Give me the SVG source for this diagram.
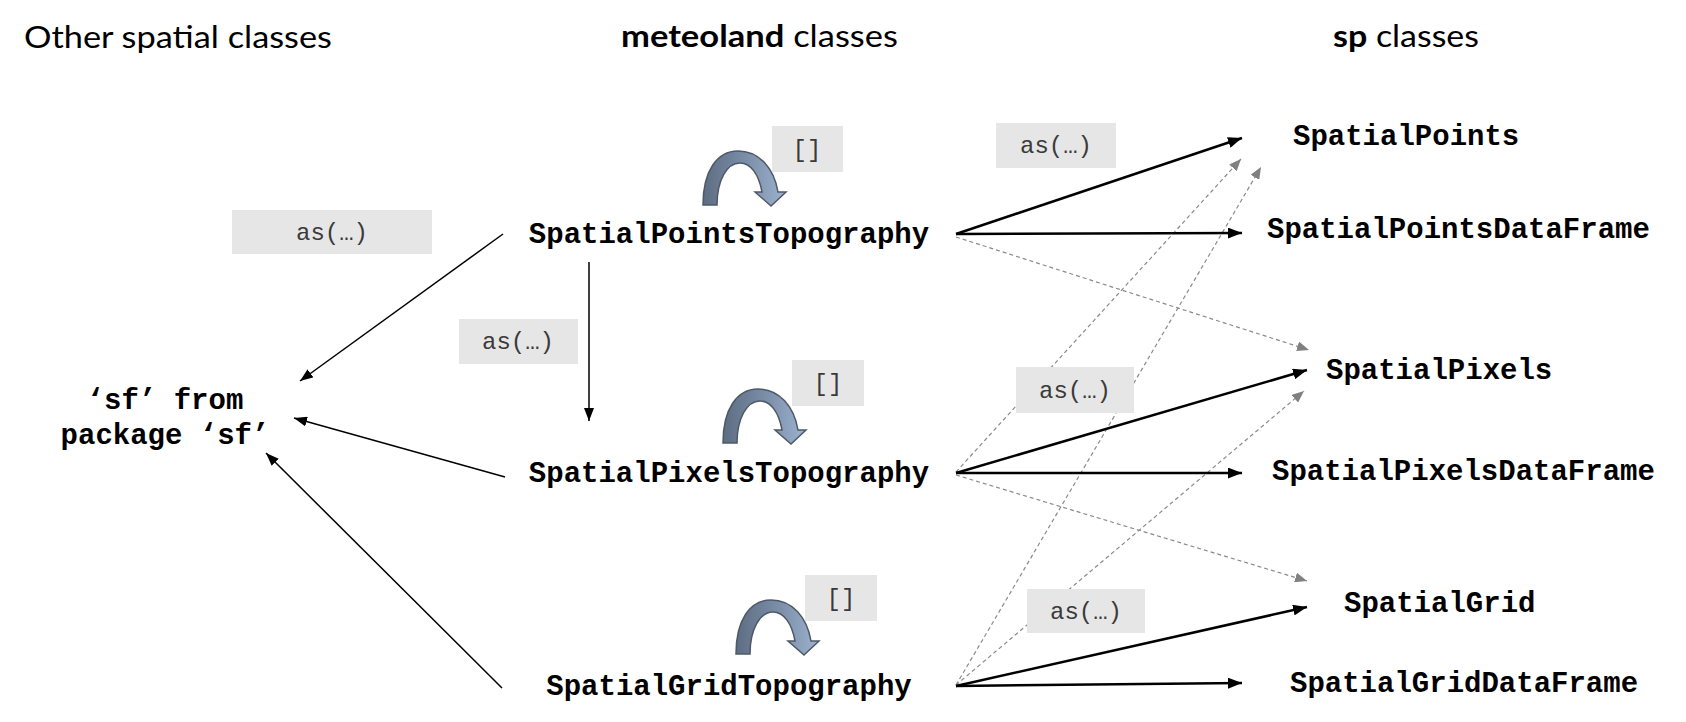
<svg xmlns="http://www.w3.org/2000/svg" width="1686" height="722" viewBox="0 0 1686 722">
<defs>
<style>
.head{font-family:Lato,"Liberation Sans",sans-serif;font-size:30px;fill:#000}
.node{font-family:"Liberation Mono","Courier New",monospace;font-weight:bold;font-size:29px;fill:#000}
.lbl rect{fill:#E7E6E6}
.lbl text{font-family:"Liberation Mono","Courier New",monospace;font-size:24px;fill:#3a3a3a;text-anchor:middle}
.thin{stroke:#000;stroke-width:1.5;fill:none;marker-end:url(#ah)}
.thick{stroke:#000;stroke-width:2.5;fill:none;marker-end:url(#ahb)}
.dash{stroke:#8a8a8a;stroke-width:1.2;stroke-dasharray:4 3;fill:none;marker-end:url(#ahg)}
.curl{fill:url(#cg);stroke:#4f5966;stroke-width:1.5}
</style>
<linearGradient id="cg" x1="0" y1="0" x2="1" y2="0">
<stop offset="0" stop-color="#5d6d83"/>
<stop offset="0.5" stop-color="#7a8da7"/>
<stop offset="1" stop-color="#9cb2ce"/>
</linearGradient>
<marker id="ah" markerUnits="userSpaceOnUse" markerWidth="13" markerHeight="10" refX="13" refY="5" orient="auto" viewBox="0 0 13 10"><path d="M0,0 L13,5 L0,10 Z" fill="#000"/></marker>
<marker id="ahb" markerUnits="userSpaceOnUse" markerWidth="14" markerHeight="11" refX="14" refY="5.5" orient="auto" viewBox="0 0 14 11"><path d="M0,0 L14,5.5 L0,11 Z" fill="#000"/></marker>
<marker id="ahg" markerUnits="userSpaceOnUse" markerWidth="12" markerHeight="10" refX="12" refY="5" orient="auto" viewBox="0 0 12 10"><path d="M0,0 L12,5 L0,10 Z" fill="#808080"/></marker>
<path id="curlShape" class="curl" d="M703,205 C703,171 717,151 738,151 C759,151 774,168 778,192 L786,192 L771,206 L755,192 L762,192 C759,175 751,163 740,163 C727,163 717,180 717,205 Z"/>
</defs>

<g id="headings">
<text class="head" x="24" y="48" textLength="308" lengthAdjust="spacingAndGlyphs">Other spatial classes</text>
<text class="head" x="621" y="47" textLength="277" lengthAdjust="spacingAndGlyphs"><tspan font-weight="bold">meteoland</tspan> classes</text>
<text class="head" x="1333" y="47" textLength="146" lengthAdjust="spacingAndGlyphs"><tspan font-weight="bold">sp</tspan> classes</text>
</g>

<g id="connectors">
<line class="dash" x1="956" y1="237" x2="1309" y2="350"/>
<line class="dash" x1="956" y1="475" x2="1307" y2="581"/>
<line class="dash" x1="956" y1="472" x2="1241" y2="159"/>
<line class="dash" x1="956" y1="685" x2="1261" y2="167"/>
<line class="dash" x1="956" y1="685" x2="1304" y2="391"/>
<line class="thin" x1="503" y1="234" x2="300" y2="381"/>
<line class="thin" x1="505" y1="477" x2="294" y2="418"/>
<line class="thin" x1="502" y1="688" x2="266" y2="453"/>
<line class="thin" x1="589" y1="262" x2="589" y2="421"/>
<line class="thick" x1="956" y1="234" x2="1242" y2="138"/>
<line class="thick" x1="956" y1="234" x2="1242" y2="233"/>
<line class="thick" x1="956" y1="473" x2="1307" y2="370"/>
<line class="thick" x1="956" y1="473" x2="1242" y2="473"/>
<line class="thick" x1="956" y1="686" x2="1307" y2="607"/>
<line class="thick" x1="956" y1="686" x2="1242" y2="683"/>
<use href="#curlShape"/>
<use href="#curlShape" transform="translate(20,238)"/>
<use href="#curlShape" transform="translate(33,449)"/>
</g>

<g id="label-as-sf" class="lbl"><rect x="232" y="210" width="200" height="44"/><text x="332" y="240">as(…)</text></g>
<g id="label-as-down" class="lbl"><rect x="459" y="319" width="119" height="45"/><text x="518" y="349">as(…)</text></g>
<g id="label-as-points" class="lbl"><rect x="996" y="123" width="120" height="45"/><text x="1056" y="153">as(…)</text></g>
<g id="label-as-pixels" class="lbl"><rect x="1016" y="367" width="118" height="46"/><text x="1075" y="398">as(…)</text></g>
<g id="label-as-grid" class="lbl"><rect x="1027" y="589" width="118" height="44"/><text x="1086" y="619">as(…)</text></g>
<g id="label-sub-points" class="lbl"><rect x="772" y="126" width="71" height="46"/><text x="807" y="157">[]</text></g>
<g id="label-sub-pixels" class="lbl"><rect x="792" y="360" width="72" height="46"/><text x="828" y="391">[]</text></g>
<g id="label-sub-grid" class="lbl"><rect x="805" y="575" width="72" height="46"/><text x="841" y="606">[]</text></g>

<g id="node-sf"><text class="node" text-anchor="middle"><tspan x="165" y="409">‘sf’ from</tspan><tspan x="165" y="444">package ‘sf’</tspan></text></g>
<g id="node-SpatialPointsTopography"><text class="node" x="729" y="243" text-anchor="middle">SpatialPointsTopography</text></g>
<g id="node-SpatialPixelsTopography"><text class="node" x="729" y="482" text-anchor="middle">SpatialPixelsTopography</text></g>
<g id="node-SpatialGridTopography"><text class="node" x="729" y="695" text-anchor="middle">SpatialGridTopography</text></g>
<g id="node-SpatialPoints"><text class="node" x="1293" y="145">SpatialPoints</text></g>
<g id="node-SpatialPointsDataFrame"><text class="node" x="1267" y="238">SpatialPointsDataFrame</text></g>
<g id="node-SpatialPixels"><text class="node" x="1326" y="379">SpatialPixels</text></g>
<g id="node-SpatialPixelsDataFrame"><text class="node" x="1272" y="480">SpatialPixelsDataFrame</text></g>
<g id="node-SpatialGrid"><text class="node" x="1344" y="612">SpatialGrid</text></g>
<g id="node-SpatialGridDataFrame"><text class="node" x="1290" y="692">SpatialGridDataFrame</text></g>
</svg>
